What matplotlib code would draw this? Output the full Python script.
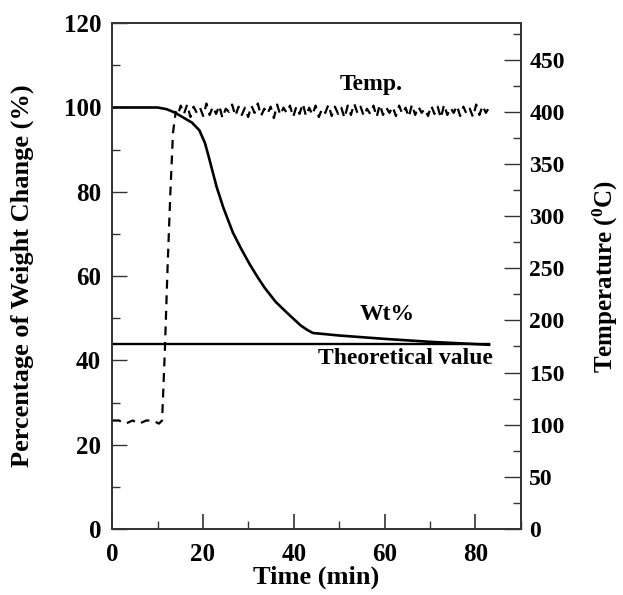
import numpy as np
import matplotlib
matplotlib.use("Agg")
import matplotlib.pyplot as plt
from matplotlib.ticker import MultipleLocator

plt.rcParams['font.family'] = ['Liberation Serif', 'DejaVu Serif']
plt.rcParams['font.weight'] = 'bold'
plt.rcParams['mathtext.fontset'] = 'custom'
plt.rcParams['mathtext.bf'] = 'Liberation Serif:bold'
plt.rcParams['mathtext.rm'] = 'Liberation Serif:bold'

# weight loss curve (%)
wt_time = [0, 10, 12, 13.8, 15.7, 17.6, 19.2, 20.4, 21.2, 22, 23, 24.5, 26.6, 28.5,
           30.3, 32, 33.6, 36, 38.5, 40, 41.5, 43, 44.2, 50, 60, 70, 83]
wt_pct = [100, 100, 99.6, 98.8, 97.6, 96.4, 94.6, 91.7, 88.6, 85.3, 81.2, 76.2, 70.3, 66.3,
          62.8, 59.8, 57.2, 53.9, 51.3, 49.8, 48.3, 47.2, 46.5, 45.9, 45.1, 44.4, 43.7]

# theoretical residual weight
theo_time = [0, 83]
theo_pct = [43.9, 43.9]

# temperature (deg C): hold, ramp, then noisy plateau
temp_time_start = [0, 1.5, 3, 4.5, 6, 7.5, 9, 10.3, 11, 11.6, 12.2, 12.8, 13.4, 14]
temp_start = [104, 104, 101, 104, 101, 104, 104, 101, 104, 170, 250, 320, 380, 400]
temp_noise = [396, 406, 398, 407, 395, 405, 399, 404, 396, 408, 397, 405, 398, 406,
              394, 403, 400, 407, 396, 405, 397, 404, 395, 406, 399, 408, 396, 403,
              398, 405, 394, 407, 397, 404, 399, 406, 395, 405, 398, 408, 396, 404,
              397, 406, 395, 403, 399, 407, 396, 405, 398, 404, 394, 406, 397, 408,
              399, 405, 396, 403, 398, 406, 395, 407, 397, 404, 399, 405, 396, 406,
              398, 404, 395, 407, 397, 405, 399, 403, 396, 406, 398, 405, 394, 407,
              397, 404, 399, 406, 396, 405, 398, 403, 395, 407, 397, 406, 399, 404]
temp_time_plateau = np.linspace(14.4, 83, len(temp_noise))

fig = plt.figure(figsize=(6.23, 5.95), dpi=100)
ax = fig.add_axes([0.180, 0.111, 0.656, 0.850])
ax2 = ax.twinx()

spine_col = '#333333'
ax.plot(wt_time, wt_pct, color='black', lw=1.9)
ax.plot(theo_time, theo_pct, color='black', lw=1.7)
ax2.plot(temp_time_start + list(temp_time_plateau),
         temp_start + temp_noise, color='black', lw=1.6, ls=(0, (4, 3)))

ax.set_xlim(0, 90)
ax.set_ylim(0, 120)
ax2.set_ylim(0, 485)

ax.xaxis.set_major_locator(MultipleLocator(20))
ax.xaxis.set_minor_locator(MultipleLocator(10))
ax.yaxis.set_major_locator(MultipleLocator(20))
ax.yaxis.set_minor_locator(MultipleLocator(10))
ax2.set_yticks(range(0, 451, 50))
ax2.yaxis.set_minor_locator(MultipleLocator(25))

for a in (ax, ax2):
    for s in a.spines.values():
        s.set_color(spine_col)
        s.set_linewidth(1.3)
ax.tick_params(axis='x', which='both', direction='in', top=False, labelsize=18, pad=10, color=spine_col)
ax.tick_params(axis='x', which='major', length=11, width=1.2)
ax.tick_params(axis='x', which='minor', length=6, width=1.0)
ax.tick_params(axis='y', which='both', direction='in', right=False, labelsize=18, pad=8, color=spine_col)
ax.tick_params(axis='y', which='major', length=11, width=1.0)
ax.tick_params(axis='y', which='minor', length=6, width=1.0)
ax2.tick_params(axis='y', which='both', direction='in', labelsize=17, pad=6, color=spine_col)
ax2.tick_params(axis='y', which='major', length=12, width=1.0)
ax2.tick_params(axis='y', which='minor', length=6, width=1.0)

ax.set_xlabel('Time (min)', fontsize=19, fontweight='bold')
ax.set_ylabel('Percentage of Weight Change (%)', fontsize=19, fontweight='bold')
ax2.set_ylabel('Temperature ($\\mathbf{^0}$C)', fontsize=18, fontweight='bold')
ax.xaxis.set_label_coords(0.5, -0.073)
ax.yaxis.set_label_coords(-0.19, 0.5)
ax2.yaxis.set_label_coords(1.172, 0.5)

ax.text(57, 105.5, 'Temp.', fontsize=17, fontweight='bold', ha='center', va='center')
ax.text(60.5, 50.8, 'Wt%', fontsize=17, fontweight='bold', ha='center', va='center')
ax.text(64.5, 40.5, 'Theoretical value', fontsize=17, fontweight='bold', ha='center', va='center')

fig.savefig('out.png', dpi=100)
